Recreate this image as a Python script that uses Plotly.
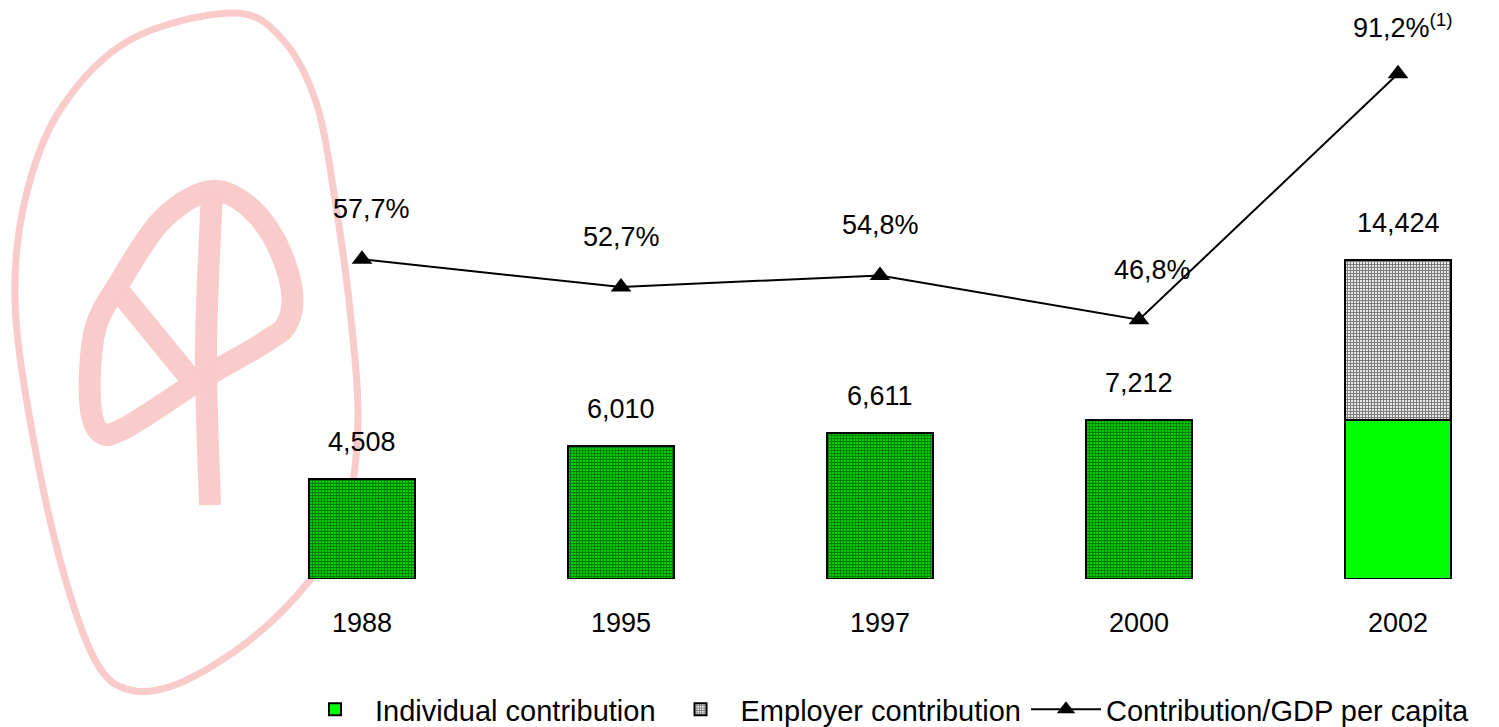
import plotly.graph_objects as go

# ---------------- data ----------------
years = ["1988", "1995", "1997", "2000", "2002"]
early_years = ["1988", "1995", "1997", "2000"]
early_values = [4508, 6010, 6611, 7212]          # total contribution (pre-2002)
individual_years = ["2002"]
individual_values = [7212]
employer_years = ["2002"]
employer_values = [7212]
bar_labels = ["4,508", "6,010", "6,611", "7,212", "14,424"]
ratio_values = [57.7, 52.7, 54.8, 46.8, 91.2]    # contribution / GDP per capita, %
ratio_labels = ["57,7%", "52,7%", "54,8%", "46,8%", "91,2%<sup>(1)</sup>"]

# watermark outline points (screen pixels), decoration only
ring_px = [(233, 13), (283, 40), (317, 105), (335, 200), (350, 310), (358, 420),
           (345, 520), (310, 580), (250, 640), (180, 683), (130, 690), (95, 660),
           (60, 560), (30, 420), (15, 300), (25, 200), (60, 110), (130, 40)]
loop_px = [(120, 282), (160, 222), (205, 192), (240, 200), (272, 235), (291, 285),
           (288, 322), (265, 342), (200, 380), (125, 428), (100, 432), (90, 400),
           (95, 330)]
stem_px = [(212, 192), (206, 350), (210, 505)]
diag_px = [(118, 290), (190, 378)]

FONT = "Liberation Sans, Arial, sans-serif"
FIG_W, FIG_H = 1499, 727
OFF = 8                       # page margin around the figure
MB = 156                      # bottom margin
PLOT_H = FIG_H - MB


def to_paper(p):
    return ((p[0] - OFF) / FIG_W, (PLOT_H - (p[1] - OFF)) / PLOT_H)


def smooth_path(pts, closed):
    pts = [to_paper(p) for p in pts]
    n = len(pts)
    if n < 3:
        return "M %f,%f " % pts[0] + " ".join("L %f,%f" % p for p in pts[1:])
    ext = pts[-1:] + pts + pts[:2] if closed else [pts[0]] + pts + [pts[-1]]
    segs = n if closed else n - 1
    d = "M %f,%f" % pts[0]
    for i in range(segs):
        p0, p1, p2, p3 = ext[i], ext[i + 1], ext[i + 2], ext[i + 3]
        c1 = (p1[0] + (p2[0] - p0[0]) / 6, p1[1] + (p2[1] - p0[1]) / 6)
        c2 = (p2[0] - (p3[0] - p1[0]) / 6, p2[1] - (p3[1] - p1[1]) / 6)
        d += " C %f,%f %f,%f %f,%f" % (c1 + c2 + p2)
    if closed:
        d += " Z"
    return d


pink = "rgba(250,200,200,0.95)"
shapes = [
    dict(type="path", xref="paper", yref="paper", path=smooth_path(ring_px, True),
         line=dict(color=pink, width=7), layer="below"),
    dict(type="path", xref="paper", yref="paper", path=smooth_path(loop_px, True),
         line=dict(color=pink, width=22), layer="below"),
    dict(type="path", xref="paper", yref="paper", path=smooth_path(stem_px, False),
         line=dict(color=pink, width=22), layer="below"),
    dict(type="path", xref="paper", yref="paper", path=smooth_path(diag_px, False),
         line=dict(color=pink, width=22), layer="below"),
]

fig = go.Figure()

fig.add_trace(go.Bar(
    x=early_years, y=early_values, showlegend=False, name="Contribution",
    marker=dict(color="#00ff00", line=dict(color="black", width=2),
                pattern=dict(shape="+", fgcolor="#000000", bgcolor="#00ff00",
                             size=3, solidity=0.7)),
    hoverinfo="x+y",
))
fig.add_trace(go.Bar(
    x=individual_years, y=individual_values, name="Individual contribution",
    marker=dict(color="#00ff00", line=dict(color="black", width=2)),
))
fig.add_trace(go.Bar(
    x=employer_years, y=employer_values, name="Employer contribution",
    marker=dict(color="white", line=dict(color="black", width=2),
                pattern=dict(shape="+", fgcolor="#111111", bgcolor="#e8e8e8",
                             size=3, solidity=0.55)),
))
fig.add_trace(go.Scatter(
    x=years, y=ratio_values, name="Contribution/GDP per capita", yaxis="y2",
    mode="lines+markers",
    line=dict(color="black", width=2),
    marker=dict(symbol="triangle-up", size=18, color="black"),
))

totals = early_values + [individual_values[0] + employer_values[0]]
annotations = []
for i, (v, t) in enumerate(zip(totals, bar_labels)):
    annotations.append(dict(x=i, y=v, xref="x", yref="y", text=t, showarrow=False,
                            yanchor="bottom", yshift=20,
                            font=dict(family=FONT, size=27, color="black")))
xshifts = [9, 0, 0, 13, 5]
yshifts = [33, 33, 33, 33, 29]
for i, (v, t, dx, dy) in enumerate(zip(ratio_values, ratio_labels, xshifts, yshifts)):
    annotations.append(dict(x=i, y=v, xref="x", yref="y2", text=t, showarrow=False,
                            yanchor="bottom", yshift=dy, xshift=dx,
                            font=dict(family=FONT, size=27, color="black")))

# category centres on screen at 362 + 259*k
c0 = (362 - OFF) / 259.0
fig.update_layout(
    width=FIG_W, height=FIG_H,
    margin=dict(l=0, r=0, t=0, b=MB),
    paper_bgcolor="white", plot_bgcolor="rgba(0,0,0,0)",
    barmode="stack", bargap=0.587,
    font=dict(family=FONT, size=27, color="black"),
    xaxis=dict(type="category", range=[-c0, FIG_W / 259.0 - c0], showgrid=False,
               zeroline=False, showline=False, ticks="outside", ticklen=20,
               tickcolor="rgba(0,0,0,0)",
               tickfont=dict(family=FONT, size=27, color="black")),
    yaxis=dict(range=[0, PLOT_H / 0.022116], visible=False, showgrid=False,
               zeroline=False),
    yaxis2=dict(range=[0, PLOT_H / 5.54], overlaying="y", side="right", visible=False,
                showgrid=False, zeroline=False),
    legend=dict(orientation="h", x=(885 - OFF) / FIG_W, xanchor="center",
                xref="container", yref="container",
                y=-0.012, yanchor="bottom",
                font=dict(family=FONT, size=29, color="black"), itemwidth=70,
                traceorder="normal", bgcolor="rgba(0,0,0,0)"),
    shapes=shapes,
    annotations=annotations,
    showlegend=True,
)

fig.write_html("out.html")
